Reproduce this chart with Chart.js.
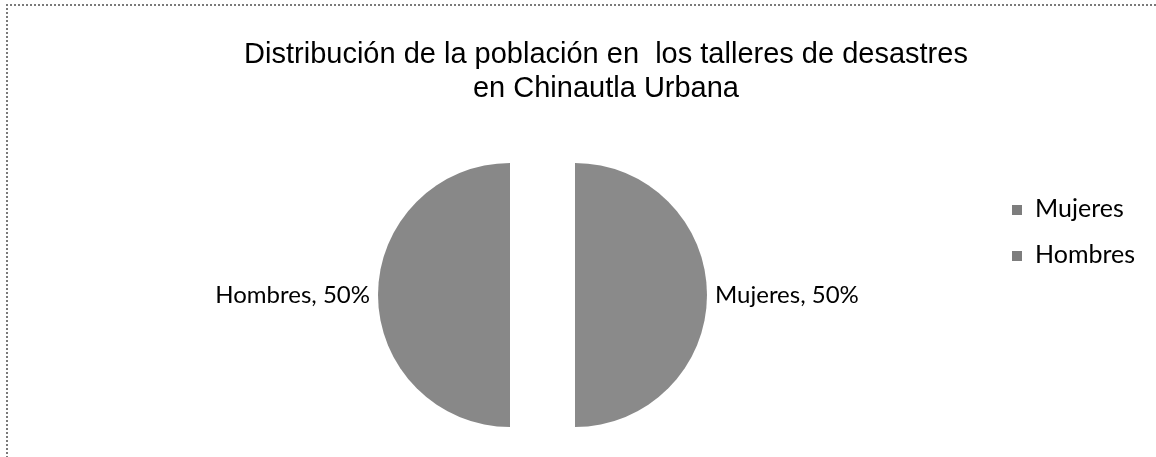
<!DOCTYPE html>
<html><head><meta charset="utf-8">
<script src="https://cdn.jsdelivr.net/npm/chart.js@4"></script>
<style>
html,body{margin:0;padding:0;background:#fff;}
#wrap{position:relative;width:1156px;height:457px;overflow:hidden;background:#fff;}
#frame{position:absolute;left:6px;top:4px;width:1200px;height:500px;border-top:2px dotted #7a7a7a;border-left:2px dotted #7a7a7a;}
#title{position:absolute;left:106px;width:1000px;top:36px;text-align:center;font-family:"Liberation Sans",Arial,sans-serif;font-size:29px;line-height:34px;color:#000;white-space:pre;}
canvas{position:absolute;left:0;top:0;}
</style></head>
<body>
<div id="wrap">
<div id="frame"></div>
<canvas id="c" width="1156" height="457"></canvas>
<div id="title"></div>
</div>
<script>
const titleLines = ['Distribución de la población en  los talleres de desastres', 'en Chinautla Urbana'];
const categories = ['Mujeres', 'Hombres'];
const values = [50, 50];
const colors = ['#8a8a8a', '#888888'];

document.getElementById('title').textContent = titleLines.join('\n');

const labelFont = '24px Lato, "Open Sans", sans-serif';
const legendFont = '25px Lato, "Open Sans", sans-serif';

// Draw each slice with Chart.js's own arc element, pushed outward along its mid-angle
const explodedSlices = {
  id: 'explodedSlices',
  beforeDatasetDraw(chart, args, opts) {
    const ctx = chart.ctx;
    const meta = args.meta;
    const area = chart.chartArea;
    ctx.save();
    meta.data.forEach((arc) => {
      const p = arc.getProps(['startAngle', 'endAngle']);
      const mid = (p.startAngle + p.endAngle) / 2;
      ctx.save();
      ctx.translate(Math.cos(mid) * opts.distance, Math.sin(mid) * opts.distance);
      arc.draw(ctx, area);
      ctx.restore();
    });
    ctx.restore();
    return false;
  }
};

const pieLabels = {
  id: 'pieLabels',
  afterDatasetsDraw(chart, args, opts) {
    const ctx = chart.ctx;
    const meta = chart.getDatasetMeta(0);
    const ds = chart.data.datasets[0];
    const total = ds.data.reduce((a, b) => a + b, 0);
    ctx.save();
    ctx.font = labelFont;
    ctx.fillStyle = '#000';
    ctx.textBaseline = 'alphabetic';
    meta.data.forEach((arc, i) => {
      const p = arc.getProps(['x', 'y', 'startAngle', 'endAngle', 'outerRadius']);
      const mid = (p.startAngle + p.endAngle) / 2;
      const r = p.outerRadius + opts.distance + 8;
      const px = p.x + Math.cos(mid) * r;
      const py = p.y + Math.sin(mid) * r;
      ctx.textAlign = Math.cos(mid) >= 0 ? 'left' : 'right';
      const pct = Math.round(ds.data[i] / total * 100);
      ctx.fillText(chart.data.labels[i] + ', ' + pct + '%', px, py + 8);
    });
    ctx.restore();
  }
};

const sideLegend = {
  id: 'sideLegend',
  afterDraw(chart) {
    const ctx = chart.ctx;
    ctx.save();
    ctx.font = legendFont;
    ctx.textBaseline = 'alphabetic';
    ctx.textAlign = 'left';
    chart.data.labels.forEach((lab, i) => {
      const base = 217 + i * 46;
      ctx.fillStyle = '#7d7d7d';
      ctx.fillRect(1012, base - 12, 10, 10);
      ctx.fillStyle = '#000';
      ctx.fillText(lab, 1035, base);
    });
    ctx.restore();
  }
};

new Chart(document.getElementById('c'), {
  type: 'pie',
  data: {
    labels: categories,
    datasets: [{
      data: values,
      backgroundColor: colors,
      borderWidth: 0,
      offset: 0,
      hoverOffset: 0,
      radius: 132
    }]
  },
  options: {
    responsive: false,
    animation: false,
    events: [],
    layout: { padding: { left: 0, right: 71, top: 150, bottom: 17 } },
    plugins: {
      legend: { display: false },
      title: { display: false },
      tooltip: { enabled: false },
      explodedSlices: { distance: 32.5 },
      pieLabels: { distance: 32.5 }
    }
  },
  plugins: [explodedSlices, pieLabels, sideLegend]
});
</script>
</body></html>
